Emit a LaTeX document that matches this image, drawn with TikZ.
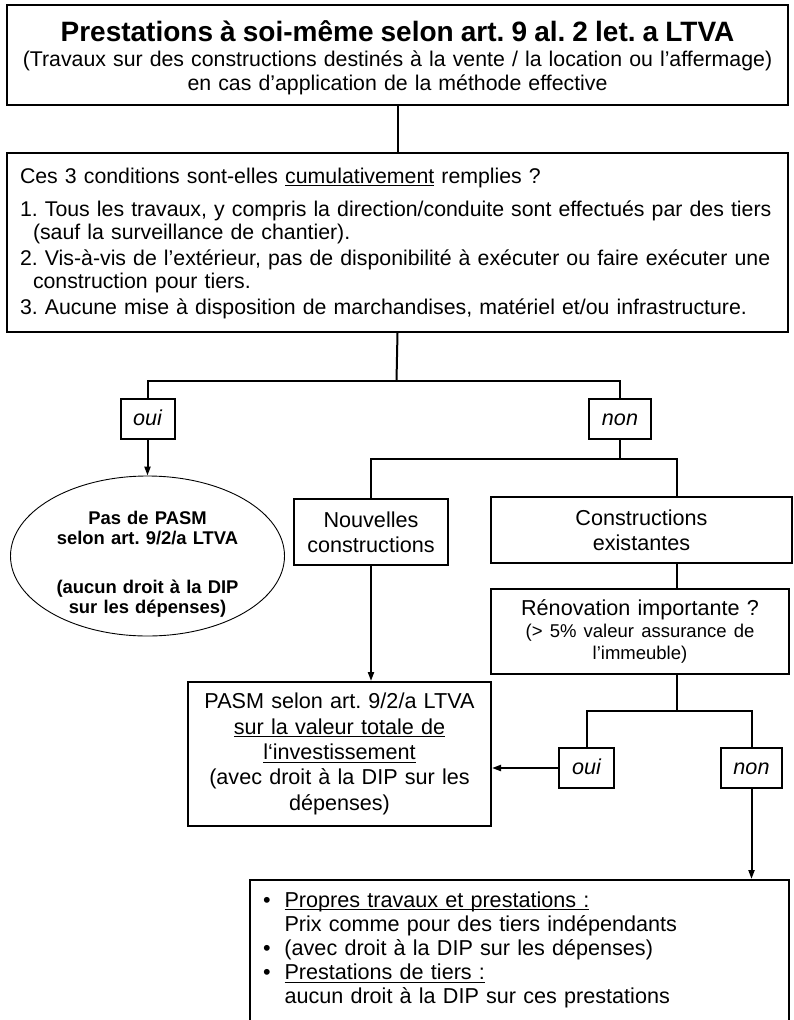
\documentclass[tikz,border=0pt]{standalone}
\usepackage{fontspec}
\setmainfont{Liberation Sans}
\usetikzlibrary{shapes.geometric,arrows.meta}
\newcommand{\souligne}[1]{\leavevmode\setbox0\hbox{#1}\rlap{\rule[-3.3pt]{\wd0}{1.1pt}}\box0{}}
\frenchspacing

\begin{document}
\begin{tikzpicture}[x=1pt,y=-1pt,
   box/.style={draw,line width=2pt,inner sep=0pt,align=center,
     font={\fontsize{21.6}{25.4}\selectfont}},
   tag/.style={draw,line width=2pt,inner sep=0pt,minimum height=40pt,text height=14pt,text depth=2pt,
     font={\fontsize{21.6}{25.4}\selectfont\itshape}},
   conn/.style={line width=2pt},
   arr/.style={conn,-{Triangle[length=9pt,width=6pt]}},
   ]
\useasboundingbox (0,0) rectangle (793,1020);

\node[box,anchor=north west,text width=781pt,text height=36pt,text depth=64pt,
  font={\fontsize{21.3}{24}\selectfont\lineskiplimit=-30pt}] (titre) at (6,4)
  {{\fontsize{28}{24}\selectfont\bfseries Prestations à soi-même selon art. 9 al. 2 let. a LTVA}\\[1pt]
   (Travaux sur des constructions destinés à la vente / la location ou l’affermage)\\
   en cas d’application de la méthode effective};

\node[box,anchor=north west,text width=775pt,inner xsep=3pt,text height=30pt,text depth=149pt,
  align=left,font={\fontsize{21.3}{23}\selectfont\lineskiplimit=-30pt}] (cond) at (6,152)
  {\hspace*{10pt}Ces 3 conditions sont-elles \souligne{cumulativement} remplies ?\\[10pt]
   \hspace*{10pt}1. Tous les travaux, y compris la direction/conduite sont effectués par des tiers\\
   \hspace*{23pt}(sauf la surveillance de chantier).\\[3pt]
   \hspace*{10pt}2. Vis-à-vis de l’extérieur, pas de disponibilité à exécuter ou faire exécuter une\\
   \hspace*{23pt}construction pour tiers.\\[3pt]
   \hspace*{10pt}3. Aucune mise à disposition de marchandises, matériel et/ou infrastructure.};

\node[tag,minimum width=54pt] (oui1) at (147.5,419) {oui};
\node[tag,minimum width=62pt] (non1) at (620,419) {non};

\node[ellipse,draw,line width=0.9pt,minimum width=274pt,minimum height=160pt,inner sep=0pt,
  text width=186pt,align=center,text height=10pt,text depth=74pt,
  font={\fontsize{18.4}{20.5}\selectfont\bfseries}] (pasmnon) at (147.5,556)
  {Pas de PASM\\selon art. 9/2/a LTVA\\[28pt](aucun droit à la DIP\\sur les dépenses)};

\node[box,minimum width=154pt,minimum height=66pt,text width=150pt] (nouv) at (371,532)
  {Nouvelles\\constructions};
\node[box,minimum width=301pt,minimum height=66pt,text width=290pt] (exist) at (641.5,530)
  {Constructions\\existantes};
\node[box,minimum width=298pt,minimum height=85pt,text width=290pt,
  font={\fontsize{21.6}{22}\selectfont}] (renov) at (640,631.5)
  {Rénovation importante ?\\{\fontsize{18.5}{22}\selectfont (> 5\% valeur assurance de\\l’immeuble)}};

\node[box,minimum width=303pt,minimum height=144pt,text width=300pt] (pasm) at (339.5,754)
  {PASM selon art. 9/2/a LTVA\\\souligne{sur la valeur totale de}\\\souligne{l‘investissement}\\(avec droit à la DIP sur les\\dépenses)};

\node[tag,minimum width=55pt] (oui2) at (586.5,768) {oui};
\node[tag,minimum width=61pt] (non2) at (751.5,768) {non};

\node[box,anchor=north west,text width=513pt,inner xsep=13pt,inner ysep=11.5pt,align=left,
  font={\fontsize{21.6}{24.2}\selectfont}] (prix) at (249,879)
  {\makebox[21.5pt][l]{\textbullet}\souligne{Propres travaux et prestations :}\\
   \hspace*{21.5pt}Prix comme pour des tiers indépendants\\
   \makebox[21.5pt][l]{\textbullet}(avec droit à la DIP sur les dépenses)\\
   \makebox[21.5pt][l]{\textbullet}\souligne{Prestations de tiers :}\\
   \hspace*{21.5pt}aucun droit à la DIP sur ces prestations\\[40pt]\strut};

\coordinate (fourche1) at (396.5,381);
\coordinate (fourche2) at (620,459);
\coordinate (fourche3) at (677,711);
\coordinate (axe) at (677,0);

\draw[conn] (titre.south) -- (cond.north);
\draw[conn] (cond.south) -- (fourche1);
\draw[conn] (oui1.north) |- (fourche1) -| (non1.north);
\draw[arr] (oui1.south) -- (pasmnon.north);
\draw[conn] (non1.south) -- (fourche2);
\draw[conn] (nouv.north) |- (fourche2) -| (exist.north -| axe);
\draw[conn] (exist.south -| axe) -- (renov.north -| axe);
\draw[conn] (renov.south -| axe) -- (fourche3);
\draw[conn] (oui2.north) |- (fourche3) -| (non2.north);
\draw[arr] (nouv.south) -- (nouv.south |- pasm.north);
\draw[arr] (oui2.west) -- (oui2.west -| pasm.east);
\draw[arr] (non2.south) -- (non2.south |- prix.north);
\end{tikzpicture}
\end{document}
